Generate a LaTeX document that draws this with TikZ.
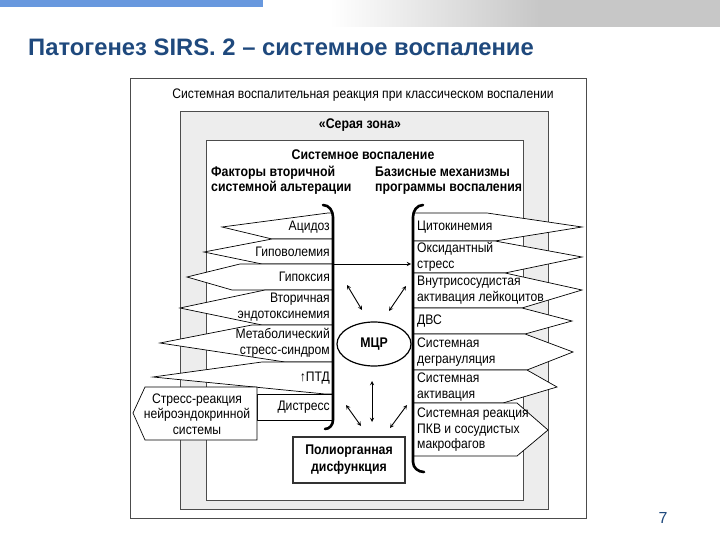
\documentclass[tikz,border=0pt]{standalone}
\usepackage{fontspec}
\setmainfont{Liberation Sans}
\newfontfamily\narrowsans[FakeStretch=0.88]{Liberation Sans}
\usepackage{xcolor}
\usetikzlibrary{arrows}
\usetikzlibrary{shapes}
\usetikzlibrary{positioning}
\definecolor{titleblue}{RGB}{31,73,125}
\definecolor{barblue}{RGB}{104,152,222}

\begin{document}
\begin{tikzpicture}
  [
    x = 1pt, y = -1pt,
    frame/.style = {draw = black!70, line width = 0.8pt},
    item/.style = {font = \narrowsans\fontsize{13.8}{15.5}\selectfont, inner sep = 0pt},
    left item/.style = {item, anchor = east, align = right},
    right item/.style = {item, anchor = west, align = left},
    head/.style = {font = \narrowsans\bfseries\fontsize{14}{15.5}\selectfont, inner sep = 0pt, align = left},
    chev/.style = {draw, fill = white, line width = 0.7pt},
    brace/.style = {line width = 2.6pt, line cap = round},
    arrow/.style = {> = stealth, line width = 0.9pt},
    arrow-both/.style = {arrow, <->},
    arrow-out/.style = {arrow, ->},
  ]
  \useasboundingbox (0,0) rectangle (720,540);
  \fill[barblue] (0,0) rectangle (263,7);
  \shade[left color = white, right color = black!22] (330,0) rectangle (540,27);
  \fill[black!22] (540,0) rectangle (720,27);
  \node[anchor = base west, font = \bfseries\fontsize{23.8}{26}\selectfont, text = titleblue, inner sep = 0pt] (title) at (28,56) {Патогенез SIRS. 2 – системное воспаление};
  \node[font = \fontsize{16}{18}\selectfont, text = titleblue] (pagenum) at (663,518) {7};

  \draw[frame, fill = white] (130,78) rectangle (586,518);
  \draw[frame, fill = black!7] (180,111) rectangle (548,509);
  \draw[frame, fill = white] (206,140) rectangle (523,500);
  \node[item] (classic) at (363,95) {Системная воспалительная реакция при классическом воспалении};
  \node[head] (grayzone) at (360,125) {«Серая зона»};
  \node[head] (sysinfl) at (363,155) {Системное воспаление};
  \node[head, anchor = base west] (factors) at (211,192) {Факторы вторичной\\системной альтерации};
  \node[head, anchor = base west] (mechanisms) at (375,192) {Базисные механизмы\\программы воспаления};

  \draw[chev] (333,213) -- (328,213) -- (222,227) -- (272,239) -- (333,239);
  \draw[chev] (333,239) -- (272,239) -- (204,252) -- (262,264) -- (333,264);
  \draw[chev] (333,264) -- (240,264) -- (187,277) -- (232,290) -- (333,290);
  \draw[chev] (333,290) -- (265,290) -- (180,308) -- (262,325) -- (333,325);
  \draw[chev] (333,325) -- (252,325) -- (160,343) -- (285,362) -- (333,362);
  \draw[chev] (333,362) -- (262,362) -- (153,377) -- (325,394) -- (333,394);
  \draw[chev] (333,394) -- (257,394) -- (257,420) -- (333,420);
  \draw[chev] (257,387) -- (145,387) -- (133,413) -- (145,440) -- (257,440) -- cycle;

  \draw[chev] (413,213) -- (487,213) -- (582,227) -- (495,241) -- (413,241);
  \draw[chev] (413,241) -- (495,241) -- (582,257) -- (505,273) -- (413,273);
  \draw[chev] (413,273) -- (505,273) -- (582,290) -- (522,308) -- (413,308);
  \draw[chev] (413,308) -- (522,308) -- (572,321) -- (525,334) -- (413,334);
  \draw[chev] (413,334) -- (525,334) -- (573,352) -- (527,370) -- (413,370);
  \draw[chev] (413,370) -- (527,370) -- (557,387) -- (503,403) -- (413,403);
  \draw[chev] (413,403) -- (517,403) -- (548,430) -- (517,456) -- (413,456);

  \draw[brace] (323,205) to[out = 0, in = 90] (333,217) -- (333,420) to[out = -90, in = 0] (325,429);
  \draw[brace] (423,205) to[out = 180, in = 90] (413,217) -- (413,462) to[out = -90, in = 180] (424,472);

  \node[left item] (acidosis) at (330,227) {Ацидоз};
  \node[left item] (hypovolemia) at (330,252) {Гиповолемия};
  \node[left item] (hypoxia) at (330,277) {Гипоксия};
  \node[left item] (endotox) at (330,307) {Вторичная\\эндотоксинемия};
  \node[left item] (metabolic) at (330,343) {Метаболический\\стресс-синдром};
  \node[left item] (ptd) at (330,378) {↑ПТД};
  \node[left item] (distress) at (330,407) {Дистресс};
  \node[item, align = center] (stress) at (197,414) {Стресс-реакция\\нейроэндокринной\\системы};

  \node[right item] (cytokin) at (417,227) {Цитокинемия};
  \node[right item] (oxidant) at (417,257) {Оксидантный\\стресс};
  \node[right item] (leuko) at (417,290) {Внутрисосудистая\\активация лейкоцитов};
  \node[right item] (dvs) at (417,321) {ДВС};
  \node[right item] (degran) at (417,352) {Системная\\дегрануляция};
  \node[right item] (activation) at (417,387) {Системная\\активация};
  \node[right item] (pkv) at (417,430) {Системная реакция\\ПКВ и сосудистых\\макрофагов};

  \node[ellipse, draw, line width = 1.2pt, minimum width = 74, minimum height = 44, font = \narrowsans\bfseries\fontsize{14}{16}\selectfont] (mcr) at (374,344) {МЦР};
  \node[draw = black!80, line width = 1.8pt, minimum width = 112, minimum height = 46, align = center, font = \narrowsans\bfseries\fontsize{14}{17}\selectfont] (polyorg) at (349,460) {Полиорганная\\дисфункция};

  \coordinate (hypo-l) at (333,264);
  \coordinate (hypo-r) at (411,264);
  \coordinate (ul-a) at (347,285);
  \coordinate (ul-b) at (362,310);
  \coordinate (ur-a) at (406,286);
  \coordinate (ur-b) at (389,311);
  \coordinate (mid-a) at (372,381);
  \coordinate (mid-b) at (372,422);
  \coordinate (ll-a) at (346,405);
  \coordinate (ll-b) at (361,426);
  \coordinate (lr-a) at (407,405);
  \coordinate (lr-b) at (390,428);
  \draw[arrow-out] (hypo-l) -- (hypo-r);
  \draw[arrow-both] (ul-a) -- (ul-b);
  \draw[arrow-both] (ur-a) -- (ur-b);
  \draw[arrow-both] (mid-a) -- (mid-b);
  \draw[arrow-both] (ll-a) -- (ll-b);
  \draw[arrow-both] (lr-a) -- (lr-b);
\end{tikzpicture}
\end{document}
